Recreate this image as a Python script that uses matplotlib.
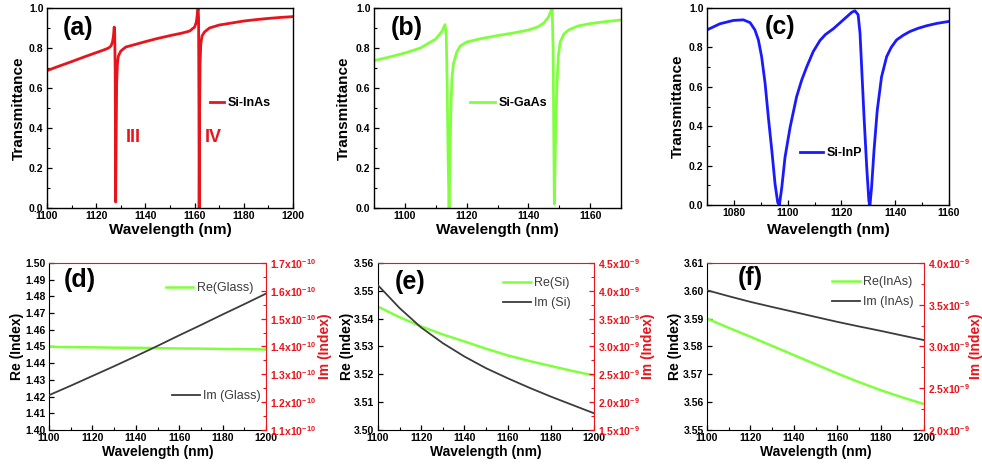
import numpy as np
import matplotlib.pyplot as plt
from matplotlib.ticker import MultipleLocator

plt.rcParams['font.family'] = ['Liberation Sans', 'DejaVu Sans']
plt.rcParams['mathtext.fontset'] = 'custom'
plt.rcParams['mathtext.rm'] = 'Liberation Sans:bold'
plt.rcParams['mathtext.default'] = 'rm'

RED = '#e8141c'
GREEN = '#80ff3f'
BLUE = '#1a1aff'
GRAY = '#3c3c3c'

# transmittance spectra of the three metasurfaces
inas_wl = [1100, 1105, 1110, 1115, 1120, 1123, 1125, 1126, 1126.6, 1127.0, 1127.3,
           1127.5, 1127.7, 1127.8, 1127.9, 1128.1, 1128.3, 1128.6, 1129, 1130, 1132,
           1135, 1140, 1145, 1150, 1155, 1158, 1160, 1160.7, 1161.1, 1161.4, 1161.6,
           1161.75, 1161.85, 1162.0, 1162.2, 1162.5, 1163, 1164, 1166, 1170, 1175,
           1180, 1185, 1190, 1195, 1200]
inas_T = [0.687, 0.71, 0.732, 0.755, 0.777, 0.79, 0.80, 0.81, 0.83, 0.86, 0.905,
          0.88, 0.70, 0.40, 0.03, 0.35, 0.62, 0.72, 0.76, 0.785, 0.805,
          0.815, 0.832, 0.848, 0.862, 0.875, 0.885, 0.905, 0.93, 0.97, 1.0, 0.95,
          0.50, 0.0, 0.45, 0.72, 0.82, 0.86, 0.88, 0.90, 0.915, 0.925,
          0.935, 0.942, 0.948, 0.953, 0.957]

gaas_wl = [1090, 1095, 1100, 1105, 1110, 1112, 1113.0, 1113.4, 1113.7, 1114.0, 1114.3,
           1114.6, 1114.9, 1115.2, 1115.7, 1116.8, 1117.9, 1120, 1125, 1130, 1135,
           1140, 1143, 1145, 1146.5, 1147.3, 1147.7, 1148.0, 1148.4, 1148.8, 1149.2,
           1149.7, 1150.3, 1151.5, 1153, 1156, 1160, 1165, 1170]
gaas_T = [0.737, 0.755, 0.775, 0.80, 0.845, 0.883, 0.917, 0.86, 0.60, 0.25, 0.0,
          0.25, 0.50, 0.64, 0.72, 0.78, 0.81, 0.83, 0.848, 0.862, 0.875,
          0.89, 0.905, 0.925, 0.955, 0.985, 1.0, 0.80, 0.02, 0.35, 0.60,
          0.76, 0.83, 0.87, 0.89, 0.91, 0.922, 0.932, 0.94]

inp_wl = [1070, 1074.8, 1079.8, 1083.5, 1086.0, 1087.8, 1089.1, 1090.3, 1091.6, 1092.8,
          1094.1, 1095.3, 1096.3, 1096.9, 1097.8, 1099.0, 1100.9, 1103.3, 1105.2, 1107.1,
          1109.5, 1112.0, 1114.0, 1117.0, 1120.7, 1123.8, 1125.0, 1126.2, 1126.9, 1127.5,
          1128.4, 1129.4, 1130.2, 1130.6, 1131.2, 1132.1, 1133.3, 1134.9, 1136.8, 1138.5,
          1140.5, 1143.0, 1145.5, 1148.5, 1151.7, 1155.5, 1160]
inp_T = [0.889, 0.92, 0.937, 0.94, 0.926, 0.889, 0.838, 0.753, 0.617, 0.446,
         0.276, 0.106, 0.012, 0.0, 0.089, 0.242, 0.395, 0.549, 0.634, 0.702,
         0.779, 0.835, 0.865, 0.895, 0.94, 0.978, 0.986, 0.966, 0.872, 0.702,
         0.446, 0.19, 0.02, 0.0, 0.089, 0.276, 0.48, 0.65, 0.753, 0.80,
         0.838, 0.862, 0.881, 0.897, 0.91, 0.922, 0.932]

# refractive index of the materials
idx_wl = [1100, 1110, 1120, 1130, 1140, 1150, 1160, 1170, 1180, 1190, 1200]
glass_re = [1.4498, 1.4496, 1.4495, 1.4493, 1.4492, 1.4490, 1.4488, 1.4487, 1.4485, 1.4484, 1.4482]
glass_im = [1.225e-10, 1.259e-10, 1.294e-10, 1.329e-10, 1.365e-10, 1.402e-10,
            1.440e-10, 1.477e-10, 1.515e-10, 1.552e-10, 1.590e-10]
si_re = [3.5443, 3.5405, 3.5372, 3.5343, 3.5318, 3.5292, 3.5268, 3.5248, 3.5230, 3.5212, 3.5196]
si_im = [4.10e-9, 3.69e-9, 3.34e-9, 3.06e-9, 2.82e-9, 2.61e-9, 2.43e-9, 2.26e-9, 2.10e-9, 1.95e-9, 1.80e-9]
inas_re = [3.590, 3.5867, 3.5835, 3.5802, 3.5769, 3.5736, 3.5703, 3.5672, 3.5643, 3.5617, 3.5593]
inas_im = [3.673e-9, 3.602e-9, 3.534e-9, 3.473e-9, 3.414e-9, 3.354e-9, 3.295e-9,
           3.240e-9, 3.187e-9, 3.131e-9, 3.076e-9]

# tick values
trans_yticks = [0.0, 0.2, 0.4, 0.6, 0.8, 1.0]
xticks_a = [1100, 1120, 1140, 1160, 1180, 1200]
xticks_b = [1100, 1120, 1140, 1160]
xticks_c = [1080, 1100, 1120, 1140, 1160]
xticks_idx = [1100, 1120, 1140, 1160, 1180, 1200]
re_ticks_d = [1.40, 1.41, 1.42, 1.43, 1.44, 1.45, 1.46, 1.47, 1.48, 1.49, 1.50]
im_ticks_d = [1.1, 1.2, 1.3, 1.4, 1.5, 1.6, 1.7]
re_ticks_e = [3.50, 3.51, 3.52, 3.53, 3.54, 3.55, 3.56]
im_ticks_e = [1.5, 2.0, 2.5, 3.0, 3.5, 4.0, 4.5]
re_ticks_f = [3.55, 3.56, 3.57, 3.58, 3.59, 3.60, 3.61]
im_ticks_f = [2.0, 2.5, 3.0, 3.5, 4.0]

TICK_FS = 7.5
LABEL_FS = 11

fig = plt.figure(figsize=(9.82, 4.66), dpi=100)


def bold_ticks(ax, xticks, xfmt, yticks, yfmt):
    ax.set_xticks(xticks)
    ax.set_xticklabels([xfmt(t) for t in xticks], fontweight='bold', fontsize=TICK_FS)
    ax.set_yticks(yticks)
    ax.set_yticklabels([yfmt(t) for t in yticks], fontweight='bold', fontsize=TICK_FS)
    ax.tick_params(which='both', direction='in', pad=2.5)
    ax.tick_params(which='major', length=3.5, width=0.9)
    ax.tick_params(which='minor', length=2, width=0.8)


def spectrum_panel(rect, wl, T, color, name, xticks, xlim, tag, tag_xy, leg_xy, hlen, ylab_x, xlab_y):
    ax = fig.add_axes(rect)
    ax.plot(wl, T, color=color, lw=2.0, label=name)
    ax.set_xlim(xlim)
    ax.set_ylim(0, 1)
    bold_ticks(ax, xticks, lambda t: f'{t}', trans_yticks, lambda t: f'{t:.1f}')
    ax.xaxis.set_minor_locator(MultipleLocator(10))
    ax.yaxis.set_minor_locator(MultipleLocator(0.1))
    ax.set_xlabel('Wavelength (nm)', fontsize=LABEL_FS, fontweight='bold')
    ax.set_ylabel('Transmittance', fontsize=LABEL_FS, fontweight='bold')
    ax.yaxis.set_label_coords(ylab_x, 0.5)
    ax.xaxis.set_label_coords(0.5, xlab_y)
    ax.legend(loc='center left', bbox_to_anchor=leg_xy, frameon=False, borderpad=0,
              borderaxespad=0, handlelength=hlen, handletextpad=0.3,
              prop={'weight': 'bold', 'size': 9})
    ax.text(tag_xy[0], tag_xy[1], tag, transform=ax.transAxes, fontsize=18,
            fontweight='bold', ha='center', va='center')
    for s in ax.spines.values():
        s.set_linewidth(1.0)
    return ax


def sci(v, exp):
    return f'{v:.1f}x10$^{{{exp}}}$'


def index_panel(rect, re_vals, im_vals, re_name, im_name, re_ticks, im_ticks, exp,
                tag, tag_xy, re_leg, im_leg, left_lab_x, right_lab_x):
    ax = fig.add_axes(rect)
    ax2 = ax.twinx()
    ax.plot(idx_wl, re_vals, color=GREEN, lw=1.8, label=re_name)
    ax2.plot(idx_wl, im_vals, color=GRAY, lw=1.3, label=im_name)
    ax.set_xlim(1100, 1200)
    ax.set_ylim(re_ticks[0], re_ticks[-1])
    scale = 10.0 ** exp
    ax2.set_ylim(im_ticks[0] * scale, im_ticks[-1] * scale)
    bold_ticks(ax, xticks_idx, lambda t: f'{t}', re_ticks, lambda t: f'{t:.2f}')
    ax.xaxis.set_minor_locator(MultipleLocator(10))
    ax2.set_yticks([t * scale for t in im_ticks])
    ax2.set_yticklabels([sci(t, exp) for t in im_ticks], fontsize=TICK_FS,
                        fontweight='bold', color=RED)
    step = (im_ticks[1] - im_ticks[0]) * scale
    ax2.yaxis.set_minor_locator(MultipleLocator(step / 2))
    ax2.tick_params(which='both', direction='in', colors=RED, pad=3)
    ax2.tick_params(which='major', length=3.5, width=0.9)
    ax2.tick_params(which='minor', length=2, width=0.8)
    ax.spines['top'].set_visible(False)
    ax.spines['right'].set_visible(False)
    ax2.spines['left'].set_visible(False)
    ax2.spines['bottom'].set_visible(False)
    ax2.spines['right'].set_color(RED)
    ax2.spines['top'].set_color(RED)
    ax.set_xlabel('Wavelength (nm)', fontsize=10, fontweight='bold')
    ax.set_ylabel('Re (Index)', fontsize=10, fontweight='bold')
    ax2.set_ylabel('Im (Index)', fontsize=10, fontweight='bold', color=RED)
    ax.yaxis.set_label_coords(left_lab_x, 0.5)
    ax.xaxis.set_label_coords(0.5, -0.09)
    ax2.yaxis.set_label_coords(right_lab_x, 0.5)
    leg_kw = dict(loc='center left', frameon=False, borderpad=0, borderaxespad=0,
                  handlelength=2.2, handletextpad=0.3, prop={'size': 9}, labelcolor=GRAY)
    ax.legend(bbox_to_anchor=re_leg, **leg_kw)
    ax2.legend(bbox_to_anchor=im_leg, **leg_kw)
    ax.text(tag_xy[0], tag_xy[1], tag, transform=ax.transAxes, fontsize=18,
            fontweight='bold', ha='center', va='center')
    return ax, ax2


# top row: transmittance
ax_a = spectrum_panel([0.0479, 0.5536, 0.2505, 0.4292], inas_wl, inas_T, RED, 'Si-InAs',
                      xticks_a, (1100, 1200), '(a)', (0.126, 0.90), (0.663, 0.525), 1.1,
                      -0.087, -0.0725)
ax_a.text(1135, 0.355, 'III', color=RED, fontsize=13, fontweight='bold', ha='center', va='center')
ax_a.text(1167.5, 0.355, 'IV', color=RED, fontsize=13, fontweight='bold', ha='center', va='center')

spectrum_panel([0.3809, 0.5536, 0.2515, 0.4292], gaas_wl, gaas_T, GREEN, 'Si-GaAs',
               xticks_b, (1090, 1170), '(b)', (0.134, 0.90), (0.389, 0.525), 2.0,
               -0.095, -0.0725)
spectrum_panel([0.7200, 0.5601, 0.2464, 0.4227], inp_wl, inp_T, BLUE, 'Si-InP',
               xticks_c, (1070, 1160), '(c)', (0.30, 0.904), (0.384, 0.264), 1.85,
               -0.093, -0.089)

# bottom row: refractive index
index_panel([0.0499, 0.0773, 0.2210, 0.3584], glass_re, glass_im, 'Re(Glass)', 'Im (Glass)',
            re_ticks_d, im_ticks_d, -10, '(d)', (0.143, 0.898), (0.539, 0.85), (0.567, 0.204),
            -0.115, 1.240)
index_panel([0.3849, 0.0773, 0.2200, 0.3584], si_re, si_im, 'Re(Si)', 'Im (Si)',
            re_ticks_e, im_ticks_e, -9, '(e)', (0.148, 0.886), (0.579, 0.88), (0.579, 0.76),
            -0.111, 1.218)
index_panel([0.7200, 0.0773, 0.2210, 0.3584], inas_re, inas_im, 'Re(InAs)', 'Im (InAs)',
            re_ticks_f, im_ticks_f, -9, '(f)', (0.198, 0.91), (0.576, 0.886), (0.576, 0.766),
            -0.115, 1.207)

fig.savefig('out.png', dpi=100)
